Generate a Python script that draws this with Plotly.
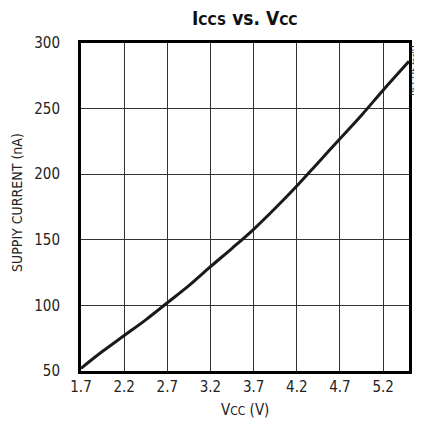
import plotly.graph_objects as go

vcc = [1.7, 1.95, 2.2, 2.45, 2.7, 2.95, 3.2, 3.45, 3.7, 3.95, 4.2, 4.45, 4.7, 4.95, 5.2, 5.5]
icc = [52, 65, 77, 89, 102, 115, 129.5, 143.5, 158, 174, 191, 209, 227, 245, 264, 286]
x_ticks = [1.7, 2.2, 2.7, 3.2, 3.7, 4.2, 4.7, 5.2]
y_ticks = [50, 100, 150, 200, 250, 300]

FONT = "DejaVu Sans Condensed, Liberation Sans Narrow, Liberation Sans, sans-serif"

fig = go.Figure()
fig.add_trace(go.Scatter(x=vcc, y=icc, mode="lines", line=dict(color="#1a1a1a", width=3, shape="spline"),
                         showlegend=False, hoverinfo="skip"))

# page body has an 8px default margin, so the figure is drawn 8px in from the window edges
fig.update_layout(
    width=414, height=427,
    margin=dict(l=73, r=13, t=35, b=64, autoexpand=False),
    paper_bgcolor="white", plot_bgcolor="white",
    font=dict(family=FONT, size=15, color="#222"),
    xaxis=dict(range=[1.7, 5.5], tickvals=x_ticks, ticktext=[str(t) for t in x_ticks],
               showgrid=True, gridcolor="#333", gridwidth=1, zeroline=False, automargin=False,
               showline=True, linecolor="black", linewidth=3, mirror=True, ticks="",
               ticklabelstandoff=0, tickfont=dict(family=FONT, size=15, color="#222")),
    yaxis=dict(range=[50, 300], tickvals=y_ticks, automargin=False,
               showgrid=True, gridcolor="#333", gridwidth=1, zeroline=False,
               showline=True, linecolor="black", linewidth=3, mirror=True, ticks="",
               ticklabelstandoff=15, tickfont=dict(family=FONT, size=15, color="#222")),
)

# chart title
fig.add_annotation(text="<b>I<span style='font-size:14px'>CCS</span> vs. V<span style='font-size:14px'>CC</span></b>",
                   xref="paper", yref="paper", x=0.5, y=1, yshift=25, xanchor="center", yanchor="middle",
                   showarrow=False, font=dict(family=FONT, size=19, color="#111"))
# x axis title
fig.add_annotation(text="V<span style='font-size:12px'>CC</span> (V)",
                   xref="paper", yref="paper", x=0.5, y=0, yshift=-39, xanchor="center", yanchor="middle",
                   showarrow=False, font=dict(family=FONT, size=15, color="#222"))
# y axis title
fig.add_annotation(text="SUPPIY CURRENT (nA)", textangle=-90,
                   xref="paper", yref="paper", x=0, y=0.5, xshift=-64, yshift=4, xanchor="center", yanchor="middle",
                   borderpad=0, showarrow=False, font=dict(family=FONT, size=14, color="#222"))
# figure id
fig.add_annotation(text="DS1375 toc01", xref="paper", yref="paper",
                   x=1, y=1, xshift=6, yshift=-1, textangle=-90,
                   xanchor="center", yanchor="top", showarrow=False, borderpad=0,
                   font=dict(family=FONT, size=8, color="#222"))

fig.write_html("out.html")
